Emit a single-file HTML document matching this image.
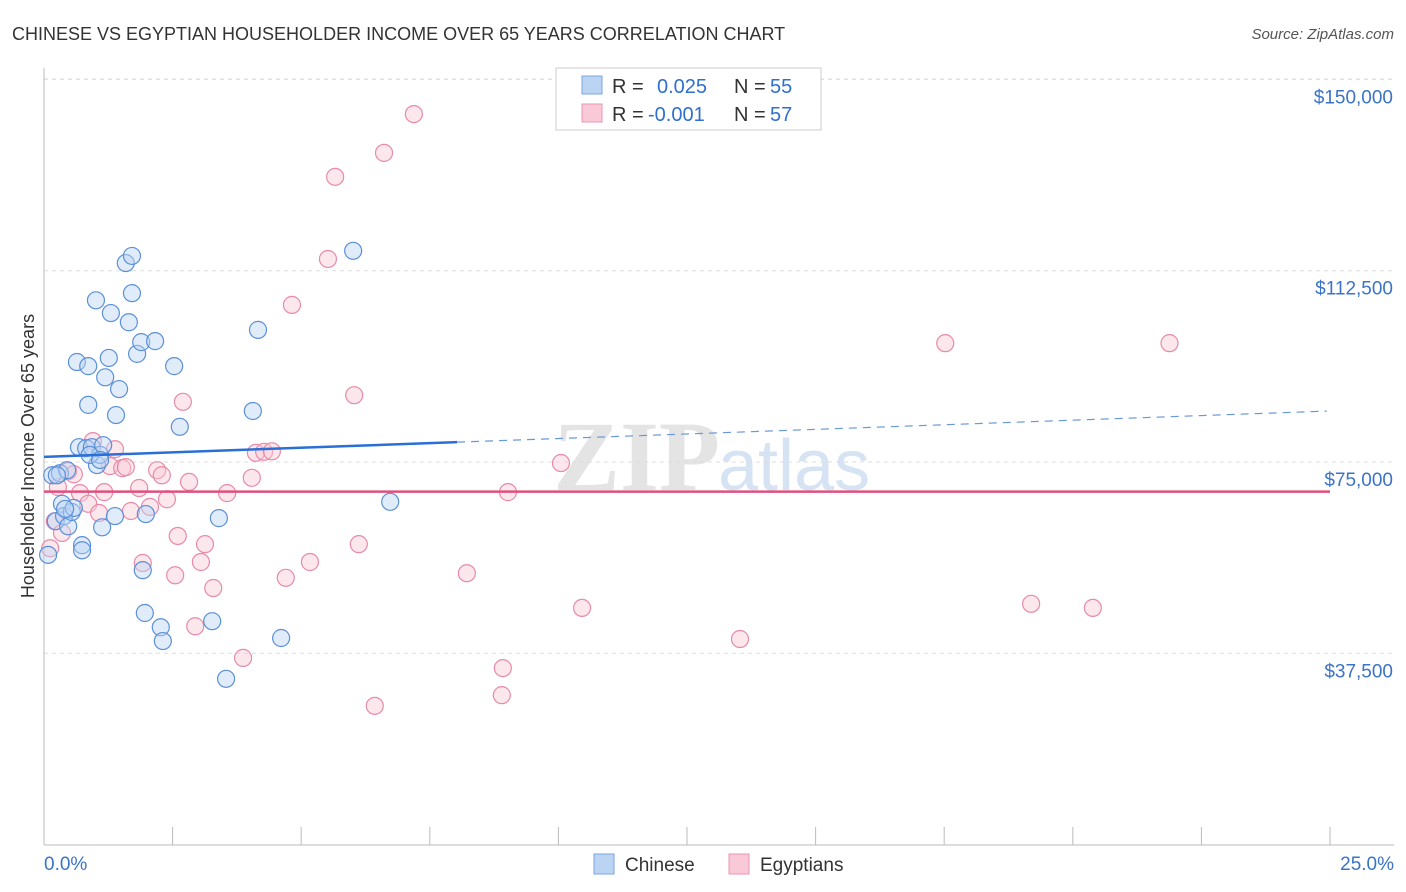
<!DOCTYPE html>
<html><head><meta charset="utf-8">
<style>
body{margin:0;background:#fff;font-family:"Liberation Sans",sans-serif;}
#wrap{position:relative;width:1406px;height:892px;overflow:hidden;}
</style></head>
<body>
<div id="wrap">
<svg id="svg" width="1406" height="892" xmlns="http://www.w3.org/2000/svg">
<text x="12" y="40" font-size="18" fill="#333">CHINESE VS EGYPTIAN HOUSEHOLDER INCOME OVER 65 YEARS CORRELATION CHART</text>
<text x="1394" y="39" font-size="15" fill="#555" text-anchor="end" font-style="italic">Source: ZipAtlas.com</text>
<text x="720" y="490" font-size="100" fill="#e4e4e4" text-anchor="end" font-family="Liberation Serif" font-weight="bold">ZIP</text>
<text x="718" y="490" font-size="72" fill="#d6e3f3">atlas</text>
<g id="grid"></g><g id="axes"></g><g id="pts"></g><g id="trend"></g>
<text transform="translate(34,456) rotate(-90)" font-size="18" fill="#333" text-anchor="middle">Householder Income Over 65 years</text>
<rect x="556" y="68" width="265" height="62" fill="#fff" stroke="#ccc"/>
<rect x="582" y="76" width="20" height="18" fill="#bcd4f3" stroke="#7aa6e0"/>
<rect x="582" y="104" width="20" height="18" fill="#f9c9d7" stroke="#ec94b0"/>
<g font-size="20">
<text x="612" y="93" fill="#333">R =</text><text x="657" y="93" fill="#2f6fd0">0.025</text>
<text x="734" y="93" fill="#333">N =</text><text x="770" y="93" fill="#2f6fd0">55</text>
<text x="612" y="121" fill="#333">R =</text><text x="648" y="121" fill="#2f6fd0">-0.001</text>
<text x="734" y="121" fill="#333">N =</text><text x="770" y="121" fill="#2f6fd0">57</text>
</g>
<rect x="594" y="854" width="20" height="20" fill="#bcd4f3" stroke="#7aa6e0"/>
<text x="625" y="871" font-size="19" fill="#333">Chinese</text>
<rect x="729" y="854" width="20" height="20" fill="#f9c9d7" stroke="#ec94b0"/>
<text x="760" y="871" font-size="19" fill="#333">Egyptians</text>
</svg>
</div>
<script>
const yTicks=[37500,75000,112500,150000];
const yTickLabels=["$37,500","$75,000","$112,500","$150,000"];
const xTickLabels=["0.0%","25.0%"];
const chineseX=[0.16,0.23,0.31,0.35,0.39,0.45,0.47,0.54,0.58,0.64,0.68,0.74,0.74,0.82,0.86,0.86,0.93,1.01,1.03,1.09,1.13,1.15,1.19,1.26,1.30,1.38,1.40,1.46,1.59,1.65,1.71,1.71,1.81,1.89,1.92,1.96,1.98,2.16,2.27,2.31,2.53,2.64,3.27,3.40,3.54,4.06,4.16,4.61,6.01,6.73,0.08,0.25,0.41,0.89,1.09];
const chineseY=[72.4,63.4,72.8,66.8,64.4,73.4,62.4,65.2,66.0,94.6,77.9,58.7,57.7,77.7,86.2,93.8,77.9,106.7,74.4,76.4,62.2,78.3,91.6,95.4,104.2,64.4,84.2,89.3,114.0,102.4,115.4,108.1,96.2,98.5,53.8,45.4,64.8,98.7,42.6,39.9,93.8,81.9,43.8,64.0,32.5,85.0,100.9,40.5,116.4,67.2,56.8,72.4,65.8,76.4,75.4];
const egyptX=[0.12,0.21,0.27,0.35,0.47,0.58,0.70,0.86,0.95,1.07,1.17,1.28,1.38,1.52,1.59,1.69,1.85,1.92,2.06,2.20,2.29,2.39,2.60,2.55,2.70,2.82,2.94,3.05,3.13,3.29,3.56,3.87,4.04,4.12,4.28,4.43,4.70,4.82,5.17,5.52,5.66,6.03,6.12,6.43,6.61,7.19,8.22,8.90,8.92,9.02,10.05,10.46,13.53,17.52,19.19,20.39,21.88];
const egyptY=[58.1,63.4,70.1,61.1,73.2,72.6,68.9,66.8,79.1,65.0,69.1,74.2,77.5,73.8,74.0,65.4,69.9,55.2,66.2,73.4,72.4,67.7,60.5,52.8,86.8,71.1,42.8,55.4,58.9,50.3,68.9,36.6,71.9,76.8,77.0,77.1,52.3,105.8,55.4,114.8,130.9,88.1,58.9,27.2,135.6,143.2,53.2,29.3,34.6,69.1,74.8,46.4,40.3,98.3,47.2,46.4,98.3];
const chineseTrend=[76.0,85.0];
const egyptTrend=[69.2,69.2];
const NS="http://www.w3.org/2000/svg";
const xs=p=>44+p*51.44;
const ys=v=>844.6-v/0.19603;
function mk(tag,attrs,parent){const e=document.createElementNS(NS,tag);for(const k in attrs)e.setAttribute(k,attrs[k]);document.getElementById(parent).appendChild(e);return e;}
yTicks.forEach((t,i)=>{
 const y=ys(t/1000);
 const l=mk('line',{x1:44,x2:1394,y1:y,y2:y,stroke:'#ddd','stroke-dasharray':'4,4'},'grid');
 
 
 const tx=mk('text',{x:1393,y:y+24,'font-size':19,fill:'#3b73c8','text-anchor':'end'},'grid');
 tx.textContent=yTickLabels[i];
 
 
});
const topLine=mk('line',{x1:44,x2:1394,y1:79,y2:79,stroke:'#ddd','stroke-dasharray':'4,4'},'grid');


const ax=mk('line',{x1:44,x2:1394,y1:845,y2:845,stroke:'#bbb'},'axes');


const ay=mk('line',{x1:44,x2:44,y1:68,y2:845,stroke:'#bbb'},'axes');


for(let i=0;i<=10;i++){const x=xs(i*2.5);const t=mk('line',{x1:x,x2:x,y1:827,y2:845,stroke:'#bbb'},'axes');
 
 }
[[0,'start',44],[1,'end',1394]].forEach(([i,a,x])=>{const t=mk('text',{x:x,y:870,'font-size':19,fill:'#3b73c8','text-anchor':a},'axes');t.textContent=xTickLabels[i];
 
 });
function pts(X,Y,fill,stroke,name){X.forEach((p,i)=>{const c=mk('circle',{cx:xs(p),cy:ys(Y[i]),r:8.5,fill:fill,'fill-opacity':0.45,stroke:stroke,'stroke-width':1.2},'pts');
 
 });}
pts(egyptX,egyptY,'#f9c9d7','#e88aa8','egyptian-point');
pts(chineseX,chineseY,'#bcd4f3','#5b90d8','chinese-point');
const cy=p=>chineseTrend[0]+(chineseTrend[1]-chineseTrend[0])*p/25;
const t1=mk('line',{x1:xs(0),y1:ys(cy(0)),x2:xs(8.03),y2:ys(cy(8.03)),stroke:'#2a6fd6','stroke-width':2.5},'trend');


const t2=mk('line',{x1:xs(8.03),y1:ys(cy(8.03)),x2:xs(24.94),y2:ys(cy(24.94)),stroke:'#6b98d8','stroke-width':1.2,'stroke-dasharray':'8,6'},'trend');


const t3=mk('line',{x1:xs(0),y1:ys(egyptTrend[0]),x2:xs(25),y2:ys(egyptTrend[1]),stroke:'#e0507e','stroke-width':2.5},'trend');


</script>
</body></html>
